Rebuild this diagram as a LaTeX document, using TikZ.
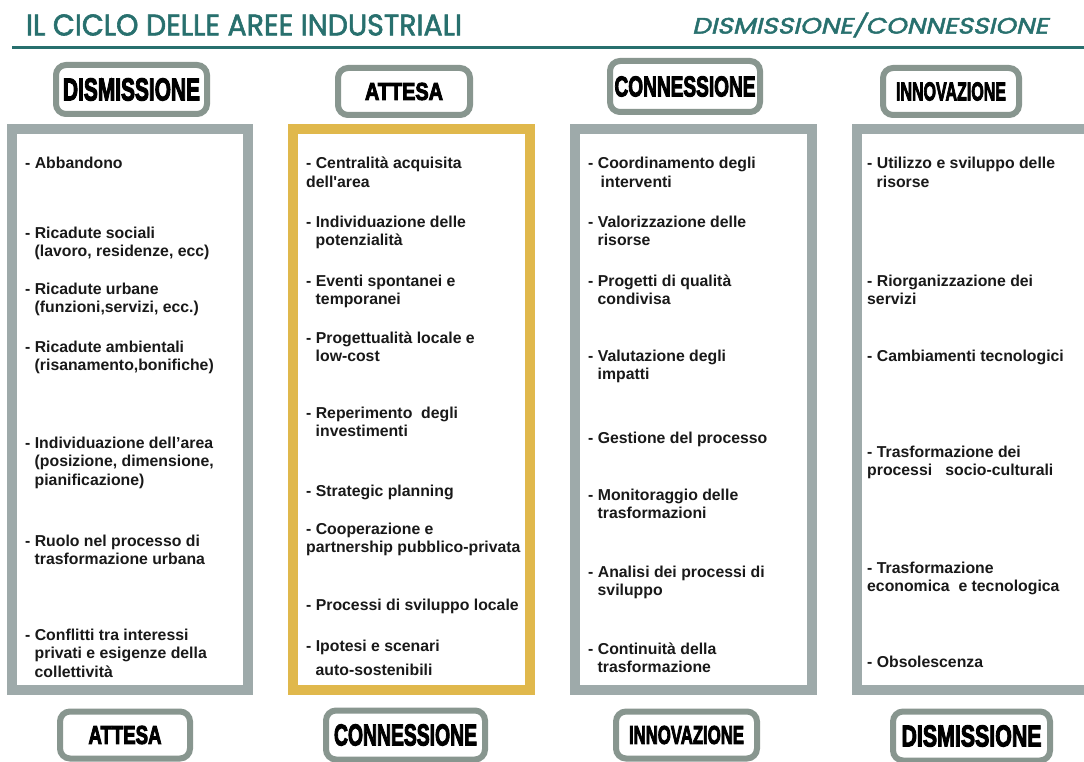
\documentclass[tikz,border=0pt]{standalone}
\usepackage{fontspec}
\usepackage{graphicx}
\setmainfont{Liberation Sans}
\newfontfamily\titlefont{Poppins}[FakeBold=2]
\newfontfamily\titleitfont{Poppins}[FakeSlant=0.2,FakeBold=2]
\newfontfamily\labfont{Liberation Sans}[FakeBold=4]
\definecolor{teal1}{RGB}{40,112,110}
\definecolor{colgray}{RGB}{158,170,170}
\definecolor{colgold}{RGB}{224,184,76}
\definecolor{labgray}{RGB}{136,150,143}
\definecolor{txt}{RGB}{25,25,25}
\newcommand{\ind}{\hspace*{9.5pt}}
\newcommand{\lab}[3]{\resizebox{#1pt}{#2pt}{\labfont\bfseries #3}}
\tikzset{
  colbox/.style={draw=colgray, line width=10pt, fill=white, inner sep=0pt},
  labbox/.style={draw=labgray, line width=6pt, rounded corners=10pt, fill=white, inner sep=0pt},
  % anchor = baseline of the LAST line of the item
  item/.style={font=\fontsize{15.8}{18.7}\selectfont\bfseries, text=txt, align=left, anchor=base west, inner sep=0pt},
}
\begin{document}
\begin{tikzpicture}[x=1pt,y=-1pt]
\clip (0,0) rectangle (1084,762);
\fill[white] (0,0) rectangle (1084,762);
% titles
\node[text=teal1, inner sep=0pt] (title) at (244,25) {\resizebox{436pt}{21pt}{\titlefont\fontsize{28}{30}\selectfont IL CICLO DELLE AREE INDUSTRIALI}};
\node[text=teal1, inner sep=0pt] (subtitle) at (870,25) {\resizebox{356pt}{21pt}{\titleitfont\fontsize{28}{30}\selectfont DISMISSIONE/CONNESSIONE}};
\coordinate (rl) at (12,47.5);
\coordinate (rr) at (1084,47.5);
\draw[teal1, line width=3.5pt] (rl) -- (rr);
% column boxes
\node[colbox, minimum width=236pt, minimum height=561pt] (c1) at (130,409.5) {};
\node[colbox, draw=colgold, minimum width=237pt, minimum height=561pt] (c2) at (411.5,409.5) {};
\node[colbox, minimum width=237pt, minimum height=561pt] (c3) at (693.5,409.5) {};
\node[colbox, minimum width=233pt, minimum height=561pt] (c4) at (973.5,409.5) {};
% top labels
\node[labbox, minimum width=151pt, minimum height=49pt] (t1) at (131.5,89.5) {\lab{137}{22}{DISMISSIONE}};
\node[labbox, minimum width=132pt, minimum height=47pt] (t2) at (404,91.5) {\lab{78}{17}{ATTESA}};
\node[labbox, minimum width=150pt, minimum height=51pt] (t3) at (685,86.5) {\lab{141}{20}{CONNESSIONE}};
\node[labbox, minimum width=136pt, minimum height=47pt] (t4) at (951,91.5) {\lab{110}{18}{INNOVAZIONE}};
% bottom labels
\node[labbox, minimum width=130pt, minimum height=47pt] (b1) at (125,735) {\lab{73}{18}{ATTESA}};
\node[labbox, minimum width=159pt, minimum height=49pt] (b2) at (405.5,735) {\lab{143}{21}{CONNESSIONE}};
\node[labbox, minimum width=141pt, minimum height=47pt] (b3) at (686.5,735) {\lab{115}{18}{INNOVAZIONE}};
\node[labbox, minimum width=157pt, minimum height=49pt] (b4) at (971.5,736) {\lab{140}{21}{DISMISSIONE}};
% column 1
\node[item] (a1) at (25,169) {- Abbandono};
\node[item] (a2) at (25,256.7) {- Ricadute sociali\\\ind(lavoro, residenze, ecc)};
\node[item] (a3) at (25,312.7) {- Ricadute urbane\\\ind(funzioni,servizi, ecc.)};
\node[item] (a4) at (25,370.7) {- Ricadute ambientali\\\ind(risanamento,bonifiche)};
\node[item] (a5) at (25,485.4) {- Individuazione dell’area\\\ind(posizione, dimensione,\\\ind pianificazione)};
\node[item] (a6) at (25,564.7) {- Ruolo nel processo di\\\ind trasformazione urbana};
\node[item] (a7) at (25,677.4) {- Conflitti tra interessi\\\ind privati e esigenze della\\\ind collettività};
% column 2
\node[item] (p1) at (306,187.7) {- Centralità acquisita\\dell\textquotesingle area};
\node[item] (p2) at (306,245.7) {- Individuazione delle\\\ind potenzialità};
\node[item] (p3) at (306,304.7) {- Eventi spontanei e\\\ind temporanei};
\node[item] (p4) at (306,361.7) {- Progettualità locale e\\\ind low-cost};
\node[item] (p5) at (306,436.7) {- Reperimento\ \ degli\\\ind investimenti};
\node[item] (p6) at (306,496) {- Strategic planning};
\node[item] (p7) at (306,552.7) {- Cooperazione e\\partnership pubblico-privata};
\node[item] (p8) at (306,610) {- Processi di sviluppo locale};
\node[item] (p9) at (306,675.7) {- Ipotesi e scenari\\[6pt]\ind auto-sostenibili};
% column 3
\node[item] (k1) at (588,187.7) {- Coordinamento degli\\\ind\hspace*{3pt}interventi};
\node[item] (k2) at (588,245.7) {- Valorizzazione delle\\\ind risorse};
\node[item] (k3) at (588,304.7) {- Progetti di qualità\\\ind condivisa};
\node[item] (k4) at (588,379.7) {- Valutazione degli\\\ind impatti};
\node[item] (k5) at (588,443) {- Gestione del processo};
\node[item] (k6) at (588,518.7) {- Monitoraggio delle\\\ind trasformazioni};
\node[item] (k7) at (588,595.7) {- Analisi dei processi di\\\ind sviluppo};
\node[item] (k8) at (588,672.7) {- Continuità della\\\ind trasformazione};
% column 4
\node[item] (n1) at (867,187.7) {- Utilizzo e sviluppo delle\\\ind risorse};
\node[item] (n2) at (867,304.7) {- Riorganizzazione dei\\servizi};
\node[item] (n3) at (867,361) {- Cambiamenti tecnologici};
\node[item] (n4) at (867,475.7) {- Trasformazione dei\\processi\ \ \ socio-culturali};
\node[item] (n5) at (867,591.7) {- Trasformazione\\economica\ \ e tecnologica};
\node[item] (n6) at (867,667) {- Obsolescenza};
\end{tikzpicture}
\end{document}
